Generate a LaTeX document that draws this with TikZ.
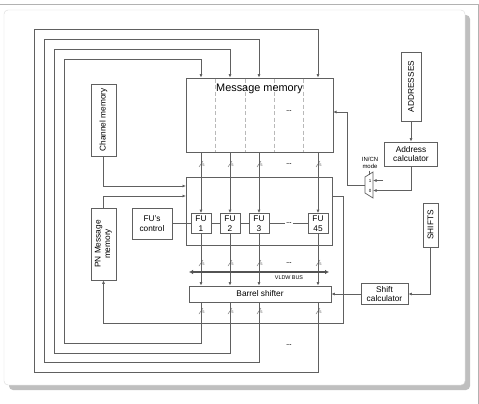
\documentclass[tikz,border=0pt]{standalone}
\usepackage{fontspec}
\setmainfont{Liberation Sans}
\setsansfont{Liberation Sans}
\usetikzlibrary{arrows.meta,calc}

\tikzset{
  blk/.style={draw=gray!75!black, fill=white, line width=0.7pt, inner sep=1pt,
    align=center, font=\fontsize{8.3}{9.5}\selectfont},
  wire/.style={draw=gray!75!black, line width=0.7pt},
  arr/.style={wire, -{Latex[length=3.5pt,width=3pt]}},
  dots/.style={font=\fontsize{6.5}{6.5}\selectfont\bfseries, inner sep=1pt, text=gray!40!black}
}
% bus width mark on a vertical line
\newcommand{\busmark}[2]{%
  \draw[gray!70!black, line width=0.4pt] (#1-2,#2+3) -- (#1+2,#2-3);
  \node[font=\fontsize{4}{4}\selectfont, text=gray!70!black, inner sep=0pt]
    (bm-#1-#2) at (#1+2.6,#2+1.6) {5};}

\begin{document}
\begin{tikzpicture}[x=1pt,y=-1pt]
\useasboundingbox (0,0) rectangle (479,404);
% page frame and panel
\draw[gray!60, line width=0.8pt] (0,4.5) -- (478,4.5) -- (478,404);
\fill[gray!50, rounded corners=4pt] (9,15) rectangle (470,390);
\draw[gray!30, fill=white, rounded corners=4pt] (4,10) rectangle (465,385);

% message memory
\node[blk, minimum width=147, minimum height=74] (mem) at (259.5,115) {};
\foreach \x in {215,245,274,303}
  \draw[gray!55, dash pattern=on 4pt off 2.5pt, line width=0.5pt] (\x,78.5) -- (\x,151.5);
\node[font=\fontsize{10.9}{12}\selectfont, inner sep=0pt] (memtitle) at (259.5,89) {Message memory};
\node[dots] (memdots) at (289,111) {...};

% FU block
\node[blk, minimum width=146, minimum height=68] (fubox) at (259,211) {};
\foreach \n/\x in {1/201,2/230,3/259,45/318}
  \node[blk, minimum width=20, minimum height=20] (fu\n) at (\x,223.5) {FU\\\n};
\node[blk, minimum width=40, minimum height=31] (ctrl) at (152,223.5) {FU’s\\control};
\node[dots] (fudots) at (289,223.5) {...};
\draw[wire] (ctrl) -- (fu1) -- (fu2) -- (fu3) -- (fudots) -- (fu45);

\node[blk, minimum width=142, minimum height=16] (bs) at (260,294) {Barrel shifter};

% side memories
\node[blk, minimum width=25, minimum height=72] (chmem) at (103.5,120) {\rotatebox{90}{Channel memory}};
\node[blk, minimum width=25, minimum height=72] (pnmem) at (103.5,244)
  {\rotatebox{90}{\begin{tabular}{@{}c@{}}PN Message\\memory\end{tabular}}};

% address and shift paths
\node[blk, minimum width=20, minimum height=69] (addrs) at (411,86.5) {\rotatebox{90}{ADDRESSES}};
\node[blk, minimum width=53, minimum height=24] (addrcalc) at (411,154) {Address\\calculator};
\node[blk, minimum width=15, minimum height=44] (shifts) at (430.5,225) {\rotatebox{90}{SHIFTS}};
\node[blk, minimum width=47, minimum height=21] (shiftcalc) at (384.5,294) {Shift\\calculator};

% mux
\draw[wire, fill=white] (365,177) -- (373,172) -- (373,198) -- (365,193) -- cycle;
\coordinate (muxout) at (365,185);
\coordinate (muxin1) at (373,180.5);
\coordinate (muxin0) at (373,190.5);
\coordinate (in1src) at (383,180.5);
\node[font=\fontsize{4.5}{5}\selectfont, inner sep=0pt] (m1) at (370,180.5) {1};
\node[font=\fontsize{4.5}{5}\selectfont, inner sep=0pt] (m0) at (370,190.5) {0};
\node[font=\fontsize{6}{6.5}\selectfont, align=center, inner sep=0pt] (mode) at (370,163) {IN/CN\\mode};
\draw[wire] ($(mode.south)+(-1,2)$) -- ++(0,4);

\draw[arr] (in1src) -- (muxin1);
\draw[arr] (addrs) -- (addrcalc);
\draw[arr] (addrcalc.south) |- (muxin0);
\draw[arr] (shifts.south) |- (shiftcalc.east);
\draw[arr] (shiftcalc) -- (bs);
\coordinate (memin) at (333,112);
\draw[arr] (muxout) -| ($(memin)+(14,0)$) -- (memin);

% into and out of the FU block
\coordinate (cin1) at (186,186);
\coordinate (cin2) at (186,196);
\coordinate (cout) at (332,196);
\draw[arr] (chmem) |- (cin1);
\draw[arr] (pnmem) |- (cin2);
\draw[arr] (cout) -- ++(11,0) -- ++(0,127) -| (pnmem);

% columns and feedback loops
\foreach \n/\x/\lx/\ty/\by in {45/318/34/29/372, 3/259/44/39/362, 2/230/54/49/353, 1/201/64/59/343}{
  \draw[arr] (mem.south -| fu\n) -- (fu\n);
  \draw[arr] (fu\n) -- (bs.north -| fu\n);
  \draw[arr] (bs.south -| fu\n) -- (\x,\by) -| (\lx,\ty) -| (mem.north -| fu\n);
  \busmark{\x}{164}
  \busmark{\x}{263}
  \busmark{\x}{311}
}
\node[dots] (d1) at (289,164) {...};
\node[dots] (d2) at (289,263) {...};
\node[dots] (d3) at (289,345) {...};

% VLDW bus
\coordinate (busl) at (189,272);
\coordinate (busr) at (329,272);
\draw[gray!65!black, line width=1.8pt, {Latex[length=4pt,width=4.5pt]}-{Latex[length=4pt,width=4.5pt]}] (busl) -- (busr);
\node[font=\fontsize{5.4}{6}\selectfont, inner sep=0pt] (buslbl) at (289,277.5) {VLDW BUS};
\end{tikzpicture}
\end{document}
